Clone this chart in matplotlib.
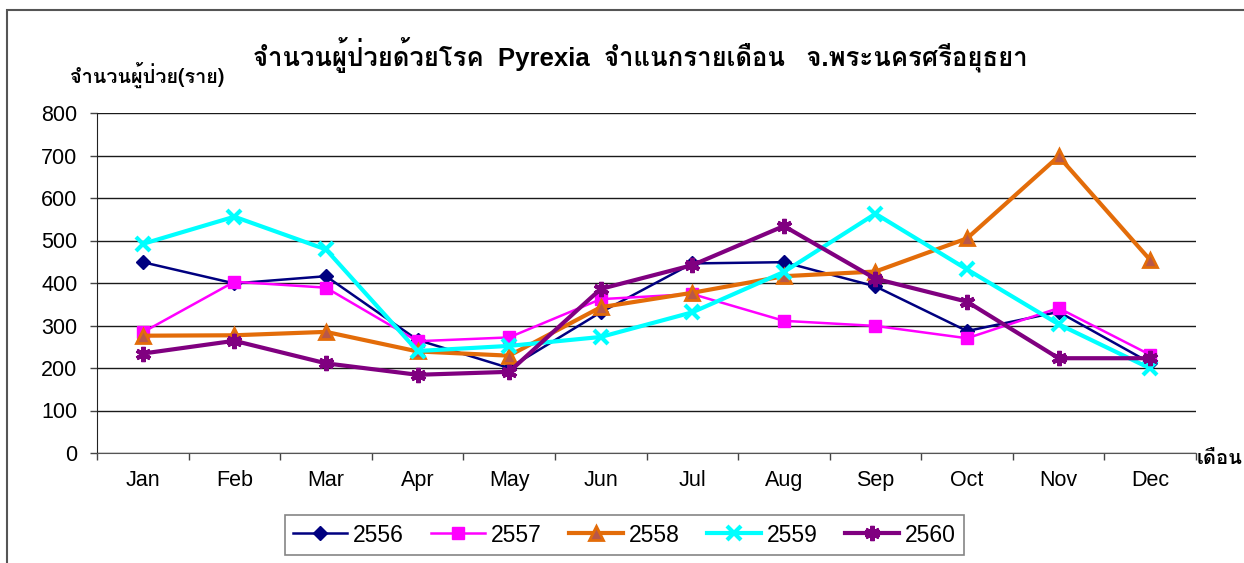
import matplotlib
matplotlib.use("Agg")
import matplotlib.pyplot as plt
from matplotlib import font_manager
from matplotlib.ft2font import FT2Font
from matplotlib.patches import Rectangle

months = ["Jan", "Feb", "Mar", "Apr", "May", "Jun", "Jul", "Aug", "Sep", "Oct", "Nov", "Dec"]
years = ["2556", "2557", "2558", "2559", "2560"]

y2556 = [449, 399, 416, 266, 200, 331, 446, 449, 392, 287, 332, 212]
y2557 = [284, 403, 389, 263, 272, 362, 374, 311, 299, 270, 341, 231]
y2558 = [276, 277, 285, 239, 229, 343, 377, 416, 427, 505, 698, 454]
y2559 = [492, 556, 479, 240, 252, 273, 331, 426, 563, 432, 303, 199]
y2560 = [234, 264, 211, 184, 191, 386, 442, 534, 410, 356, 223, 223]
series = [y2556, y2557, y2558, y2559, y2560]


# look for any installed font that has Thai glyphs
thai = []
for f in font_manager.fontManager.ttflist:
    try:
        if 0x0E08 in FT2Font(f.fname).get_charmap():
            if f.name not in thai:
                thai.append(f.name)
    except Exception:
        pass

fam_title = ["Liberation Sans"] + thai + ["DejaVu Sans"]
fam_thai = thai + ["DejaVu Sans"]

plt.rcParams["font.family"] = ["Liberation Sans", "DejaVu Sans"]

fig = plt.figure(figsize=(12.44, 5.63), dpi=100)
ax = fig.add_axes([97 / 1244, 110 / 563, 1099 / 1244, 340 / 563])

styles = [
    dict(color="#000080", lw=1.8, marker="D", ms=7.5, mec="#000080", mfc="#000080"),
    dict(color="#FF00FF", lw=1.8, marker="s", ms=9, mec="#FF00FF", mfc="#FF00FF"),
    dict(color="#E36C09", lw=3, marker="^", ms=10, mec="#E36C09", mfc="#B8574A", mew=2),
    dict(color="#00FFFF", lw=3, marker="x", ms=10, mew=3),
    dict(color="#800080", lw=3, marker=(6, 2, 0), ms=11, mew=3),
]

x = list(range(len(months)))
for yr, vals, st in zip(years, series, styles):
    ax.plot(x, vals, label=yr, **st)

ax.set_xlim(-0.5, 11.5)
ax.set_ylim(0, 800)
ax.set_yticks(range(0, 801, 100))
ax.set_xticks(x)
ax.set_xticklabels(months)
ax.set_xticks([i - 0.5 for i in range(13)], minor=True)
ax.tick_params(axis="x", which="major", length=0, pad=12, labelsize=15.5)
ax.tick_params(axis="x", which="minor", length=5, width=1, color="#444")
ax.tick_params(axis="y", length=5, width=1, pad=9, labelsize=15.5, color="#444")
ax.yaxis.grid(True, color="#1a1a1a", lw=1)
ax.set_axisbelow(True)
for s in ("top", "right"):
    ax.spines[s].set_visible(False)
ax.spines["left"].set_color("#222")
ax.spines["bottom"].set_color("#555")

fig.text(640 / 1244, 1 - 55 / 563,
         "จำนวนผู้ป่วยด้วยโรค  Pyrexia  จำแนกรายเดือน   จ.พระนครศรีอยุธยา",
         ha="center", va="center", fontsize=18.5, fontweight="bold", family=fam_title)
fig.text(70 / 1244, 1 - 75 / 563, "จำนวนผู้ป่วย(ราย)",
         ha="left", va="center", fontsize=14.3, fontweight="bold", family=fam_thai)
fig.text(1197 / 1244, 1 - 458 / 563, "เดือน",
         ha="left", va="center", fontsize=14.5, fontweight="bold", family=fam_thai)

leg = fig.legend(loc="center", bbox_to_anchor=(624.5 / 1244, 1 - 535 / 563), ncol=5,
                 fontsize=16.5, frameon=True, fancybox=False, edgecolor="#666",
                 handlelength=2.35, handletextpad=0.26, columnspacing=1.2,
                 borderpad=0.35)
leg.get_frame().set_linewidth(1.2)

fig.patches.append(Rectangle((7 / 1244, -0.1), 1.2, 1.1 - 9.5 / 563,
                             transform=fig.transFigure, fill=False,
                             edgecolor="#555", lw=1.5))

fig.savefig("out.png", dpi=100)
